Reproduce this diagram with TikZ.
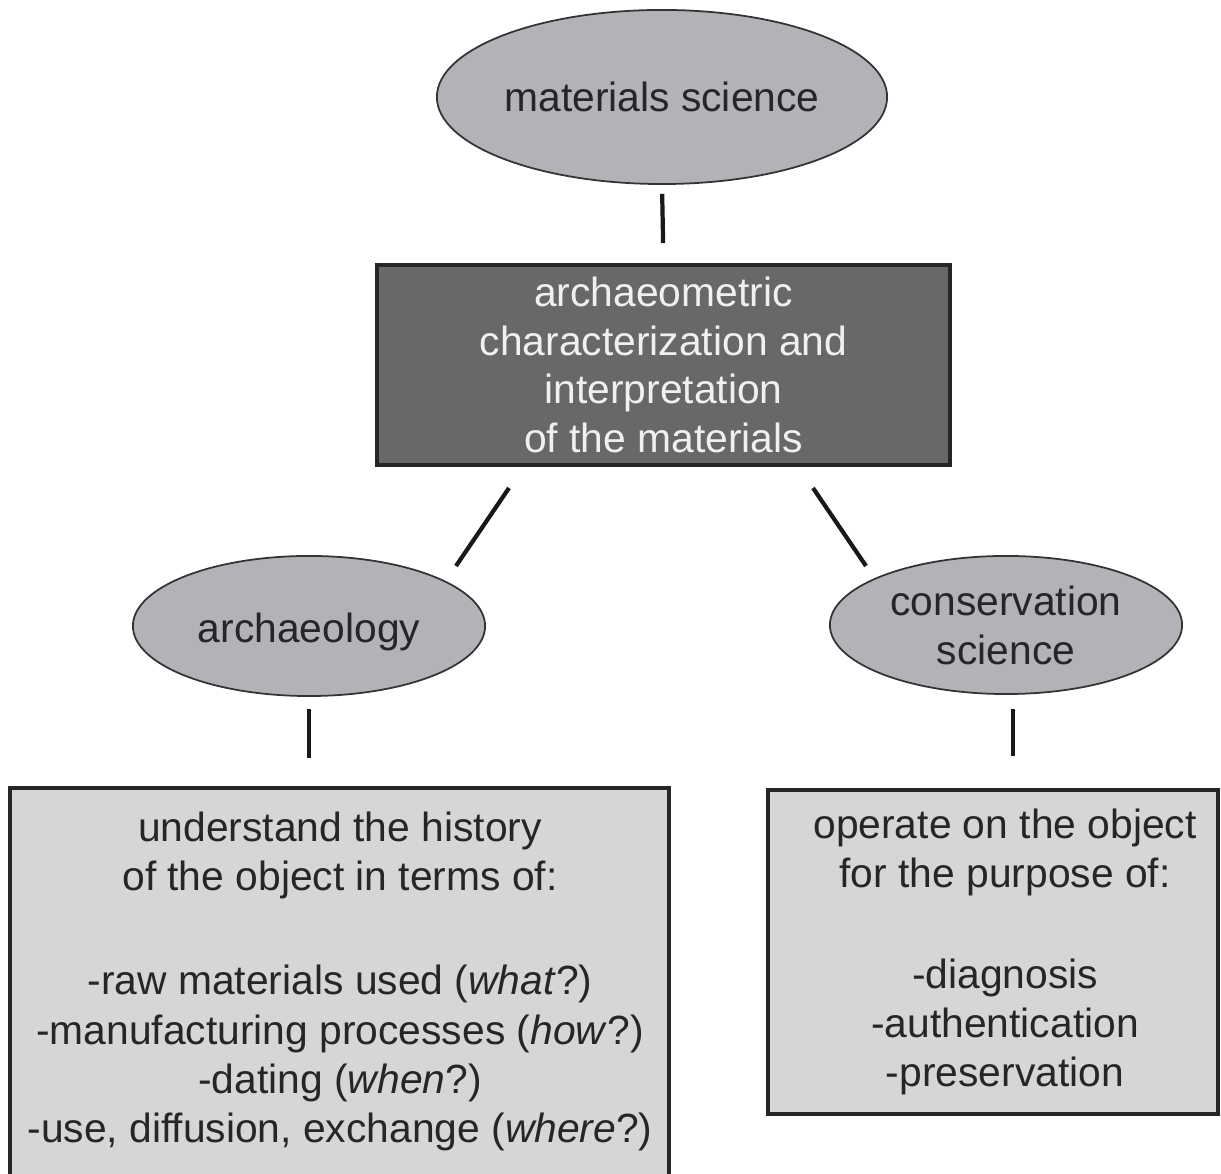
\documentclass[tikz,border=0pt]{standalone}
\usepackage{fontspec}
\setmainfont{Liberation Sans}
\usetikzlibrary{shapes.geometric}
\definecolor{ovalgray}{RGB}{178,179,182}
\definecolor{boxgray}{RGB}{213,214,216}
\definecolor{deepgray}{RGB}{104,104,104}
\definecolor{inkgray}{RGB}{38,38,40}

\begin{document}
\begin{tikzpicture}[x=0.01cm, y=-0.01cm,
    field/.style={ellipse, draw=black!80, line width=0.5pt, fill=ovalgray, text=inkgray,
      inner sep=0pt, align=center, font=\fontsize{11.6}{13.9}\selectfont},
    task/.style={rectangle, draw=black!85, line width=1pt, fill=boxgray, text=inkgray,
      inner sep=0pt, align=center, font=\fontsize{11.6}{14}\selectfont},
    note/.style={align=center, text=inkgray, inner sep=0pt},
    link/.style={line width=1.2pt, black!90}]
        \useasboundingbox (0,0) rectangle (1221,1174);
        \node[field, minimum width=4.5cm, minimum height=1.74cm] (matsci) at (662, 97) {materials science};
        \node[task, fill=deepgray, text=white!94!black, minimum width=5.73cm, minimum height=2cm,
          font=\fontsize{11.6}{13.8}\selectfont] (archeo) at (663.5, 365) {archaeometric\\characterization and\\interpretation\\of the materials};
        \node[field, minimum width=3.52cm, minimum height=1.4cm, text height=0.42cm] (archaeo) at (309, 626) {archaeology};
        \node[field, minimum width=3.52cm, minimum height=1.38cm] (conserv) at (1006, 625) {conservation\\science};
        \node[task, minimum width=6.59cm, minimum height=3.94cm] (histbox) at (339.5, 985) {};
        \node[note, font=\fontsize{11.6}{14}\selectfont] (histtext) at (340, 981.5)
          {understand the history\\of the object in terms of:\\[15.6pt]-raw materials used (\textit{what}?)\\-manufacturing processes (\textit{how}?)\\-dating (\textit{when}?)\\-use, diffusion, exchange (\textit{where}?)};
        \node[task, minimum width=4.5cm, minimum height=3.24cm] (purpbox) at (993, 952) {};
        \node[note, font=\fontsize{11.6}{13.9}\selectfont] (purptext) at (1005, 952)
          {operate on the object\\for the purpose of:\\[15pt]-diagnosis\\-authentication\\-preservation};
        \coordinate (ltop) at (509, 488);
        \coordinate (lbot) at (456, 566);
        \coordinate (rtop) at (813, 488);
        \coordinate (rbot) at (866, 566);
        \draw[link, shorten <=0.09cm, shorten >=0.2cm] (matsci.south) -- (archeo.north);
        \draw[link] (ltop) -- (lbot);
        \draw[link] (rtop) -- (rbot);
        \draw[link, shorten <=0.12cm, shorten >=0.28cm] (archaeo.south) -- (archaeo.south |- histbox.north);
        \draw[link, shorten <=0.14cm, shorten >=0.32cm] ([xshift=0.07cm]conserv.south) -- ([xshift=0.07cm]conserv.south |- purpbox.north);
      \end{tikzpicture}
\end{document}
